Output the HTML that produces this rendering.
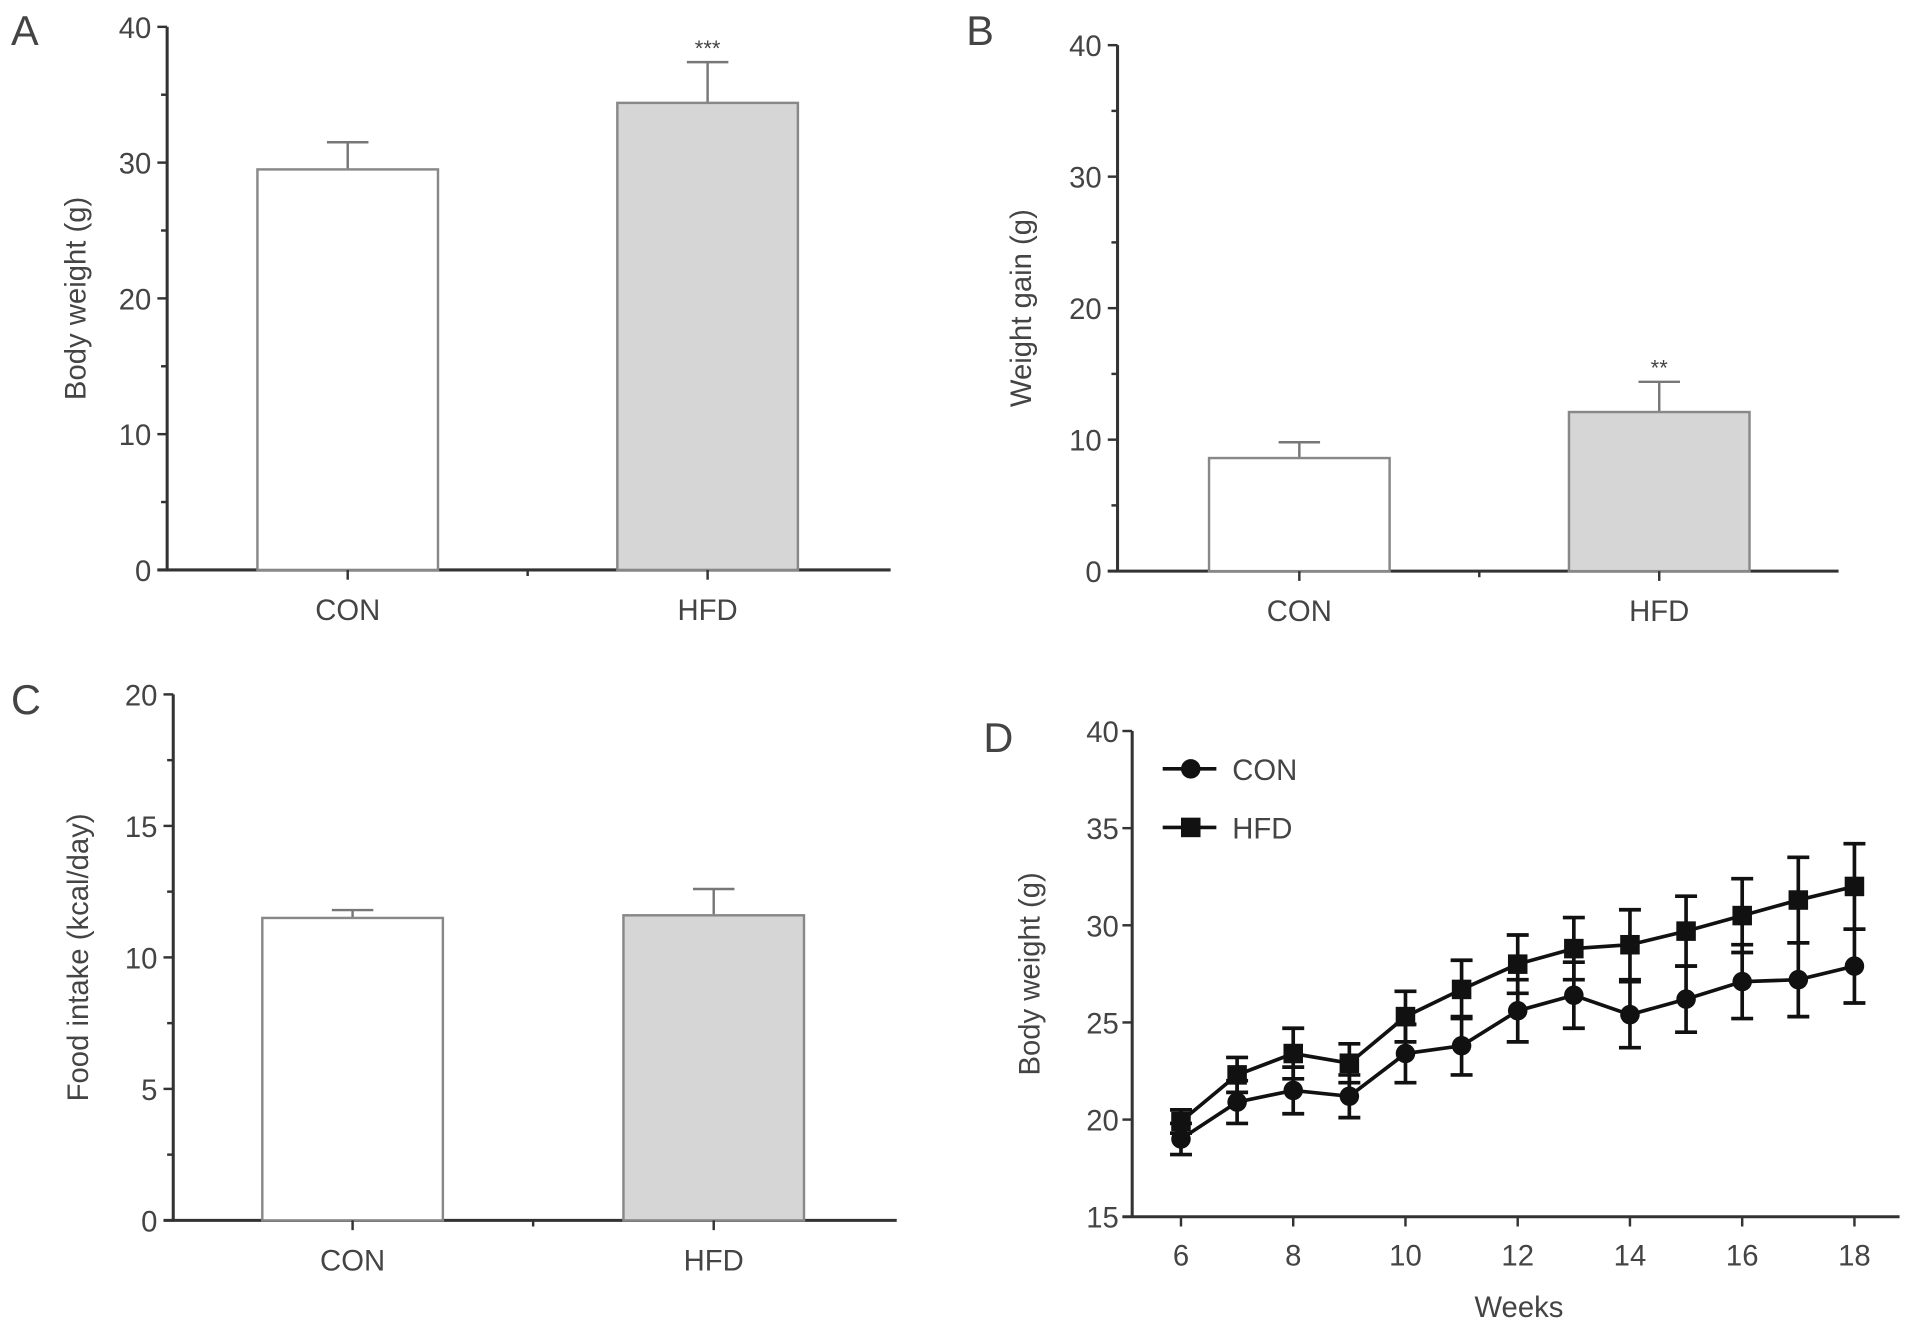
<!DOCTYPE html>
<html><head><meta charset="utf-8"><style>
html,body{margin:0;padding:0;background:#fff;}
svg{display:block;}
text{font-family:"Liberation Sans",sans-serif;fill:#444;}
</style></head><body>
<svg id="fig" width="1913" height="1329" viewBox="0 0 1568 1089" preserveAspectRatio="none" xmlns="http://www.w3.org/2000/svg"></svg>
<script>
// Panel A
const aCats = ["CON", "HFD"];
const aVals = [29.5, 34.4];
const aErrs = [2.0, 3.0];
const aTicks = [0, 10, 20, 30, 40];
// Panel B
const bCats = ["CON", "HFD"];
const bVals = [8.6, 12.1];
const bErrs = [1.2, 2.3];
const bTicks = [0, 10, 20, 30, 40];
// Panel C
const cCats = ["CON", "HFD"];
const cVals = [11.5, 11.6];
const cErrs = [0.3, 1.0];
const cTicks = [0, 5, 10, 15, 20];
// Panel D
const dWeeks = [6,7,8,9,10,11,12,13,14,15,16,17,18];
const dCon = [19.0,20.9,21.5,21.2,23.4,23.8,25.6,26.4,25.4,26.2,27.1,27.2,27.9];
const dConErr = [0.8,1.1,1.2,1.1,1.5,1.5,1.6,1.7,1.7,1.7,1.9,1.9,1.9];
const dHfd = [19.9,22.3,23.4,22.9,25.3,26.7,28.0,28.8,29.0,29.7,30.5,31.3,32.0];
const dHfdErr = [0.6,0.9,1.3,1.0,1.3,1.5,1.5,1.6,1.8,1.8,1.9,2.2,2.2];
const dYTicks = [15,20,25,30,35,40];
const dXTicks = [6,8,10,12,14,16,18];

const svg = document.getElementById('fig');
const NS = 'http://www.w3.org/2000/svg';
function mk(tag, attrs, parent){
  const e = document.createElementNS(NS, tag);
  for (const k in attrs) e.setAttribute(k, attrs[k]);
  (parent||svg).appendChild(e);
  return e;
}
function txt(s, x, y, size, anchor, parent){
  const t = mk('text', {x:x, y:y, 'font-size':size, 'text-anchor':anchor||'middle'}, parent);
  t.textContent = s;
  return t;
}

function barPanel(p){
  const g = mk('g', {});
  
  
  const ys = v => p.y0 + (p.yTop - p.y0) * (v - p.min) / (p.max - p.min);
  const lt = txt(p.letter, p.letterX, p.letterY, 34, 'start', g);
  
  
  const ya = mk('line', {x1:p.x0, y1:ys(p.max), x2:p.x0, y2:p.y0+1, stroke:'#333', 'stroke-width':2.5}, g);
  
  
  const xa = mk('line', {x1:p.x0-8, y1:p.y0, x2:p.xEnd, y2:p.y0, stroke:'#333', 'stroke-width':2.5}, g);
  
  
  const step = p.ticks[1]-p.ticks[0];
  p.ticks.forEach((t,i) => {
    mk('line', {x1:p.x0-8, y1:ys(t), x2:p.x0, y2:ys(t), stroke:'#333', 'stroke-width':2}, g);
    if (i < p.ticks.length-1) mk('line', {x1:p.x0-5, y1:ys(t+step/2), x2:p.x0, y2:ys(t+step/2), stroke:'#333', 'stroke-width':2}, g);
    const tl = txt(String(t), p.x0-13, ys(t)+9, 24, 'end', g);
    
    
  });
  const yt = txt(p.yTitle, 0, 0, 24, 'middle', g);
  yt.setAttribute('transform', `translate(${p.titleX},${(ys(p.max)+p.y0)/2}) rotate(-90)`);
  
  
  p.cats.forEach((c,i) => {
    const cx = p.centers[i];
    const top = ys(p.vals[i]);
    const eTop = ys(p.vals[i] + p.errs[i]);
    mk('line', {x1:cx, y1:top, x2:cx, y2:eTop, stroke:'#777', 'stroke-width':2}, g);
    mk('line', {x1:cx-17, y1:eTop, x2:cx+17, y2:eTop, stroke:'#777', 'stroke-width':2}, g);
    const r = mk('rect', {x:cx-p.bw/2, y:top, width:p.bw, height:p.y0-top, fill:i===0?'#fff':'#d6d6d6', stroke:'#888', 'stroke-width':2}, g);
    
    
    mk('line', {x1:cx, y1:p.y0, x2:cx, y2:p.y0+8, stroke:'#333', 'stroke-width':2}, g);
    const cl = txt(c, cx, p.y0+41, 24, 'middle', g);
    
    
    if (p.stars[i]) {
      const st = txt(p.stars[i], cx, eTop-5, 18, 'middle', g);
      
      
    }
  });
  mk('line', {x1:(p.centers[0]+p.centers[1])/2, y1:p.y0, x2:(p.centers[0]+p.centers[1])/2, y2:p.y0+5, stroke:'#333', 'stroke-width':2}, g);
}

barPanel({name:'panel-a', letter:'A', letterX:9, letterY:37, x0:137, xEnd:730, y0:467, yTop:22, min:0, max:40,
  ticks:aTicks, cats:aCats, vals:aVals, errs:aErrs, centers:[285,580], bw:148, titleX:70, yTitle:'Body weight (g)', stars:['','***']});
barPanel({name:'panel-b', letter:'B', letterX:792, letterY:37, x0:916, xEnd:1507, y0:468, yTop:37, min:0, max:40,
  ticks:bTicks, cats:bCats, vals:bVals, errs:bErrs, centers:[1065,1360], bw:148, titleX:845, yTitle:'Weight gain (g)', stars:['','**']});
barPanel({name:'panel-c', letter:'C', letterX:9, letterY:585, x0:142, xEnd:735, y0:1000, yTop:569, min:0, max:20,
  ticks:cTicks, cats:cCats, vals:cVals, errs:cErrs, centers:[289,585], bw:148, titleX:72, yTitle:'Food intake (kcal/day)', stars:['','']});

(function(){
  const g = mk('g', {});
  
  
  const x0 = 928, y0 = 997, yTop = 599, xEnd = 1557;
  const xs = w => 968 + (w - 6) * 46;
  const ys = v => y0 + (yTop - y0) * (v - 15) / 25;
  const lt = txt('D', 806, 616, 34, 'start', g);
  
  
  const ya = mk('line', {x1:x0, y1:yTop, x2:x0, y2:y0+1, stroke:'#333', 'stroke-width':2.5}, g);
  
  
  const xa = mk('line', {x1:x0-8, y1:y0, x2:xEnd, y2:y0, stroke:'#333', 'stroke-width':2.5}, g);
  
  
  dYTicks.forEach(t => {
    mk('line', {x1:x0-8, y1:ys(t), x2:x0, y2:ys(t), stroke:'#333', 'stroke-width':2}, g);
    const tl = txt(String(t), x0-11, ys(t)+9, 24, 'end', g);
    
    
  });
  dXTicks.forEach(t => {
    mk('line', {x1:xs(t), y1:y0, x2:xs(t), y2:y0+8, stroke:'#333', 'stroke-width':2}, g);
    const tl = txt(String(t), xs(t), y0+40, 24, 'middle', g);
    
    
  });
  const xt = txt('Weeks', 1245, 1079, 24, 'middle', g);
  
  
  const yt = txt('Body weight (g)', 0, 0, 24, 'middle', g);
  yt.setAttribute('transform', `translate(852,${(yTop+y0)/2}) rotate(-90)`);
  
  

  function series(vals, errs, shape, name){
    const sg = mk('g', {}, g);
    
    
    const pts = dWeeks.map((w,i) => xs(w) + ',' + ys(vals[i])).join(' ');
    mk('polyline', {points:pts, fill:'none', stroke:'#111', 'stroke-width':3}, sg);
    dWeeks.forEach((w,i) => {
      const x = xs(w), hi = ys(vals[i]+errs[i]), lo = ys(vals[i]-errs[i]);
      mk('line', {x1:x, y1:hi, x2:x, y2:lo, stroke:'#111', 'stroke-width':3}, sg);
      mk('line', {x1:x-9, y1:hi, x2:x+9, y2:hi, stroke:'#111', 'stroke-width':3}, sg);
      mk('line', {x1:x-9, y1:lo, x2:x+9, y2:lo, stroke:'#111', 'stroke-width':3}, sg);
      let m;
      if (shape === 'circle') m = mk('circle', {cx:x, cy:ys(vals[i]), r:8, fill:'#111'}, sg);
      else m = mk('rect', {x:x-8, y:ys(vals[i])-8, width:16, height:16, fill:'#111'}, sg);
      
      
    });
  }
  series(dCon, dConErr, 'circle', 'con');
  series(dHfd, dHfdErr, 'square', 'hfd');

  const lg1 = mk('g', {}, g);
  
  
  mk('line', {x1:953, y1:630, x2:997, y2:630, stroke:'#111', 'stroke-width':3}, lg1);
  mk('circle', {cx:976, cy:630, r:8, fill:'#111'}, lg1);
  txt('CON', 1010, 639, 24, 'start', lg1);
  const lg2 = mk('g', {}, g);
  
  
  mk('line', {x1:953, y1:678, x2:997, y2:678, stroke:'#111', 'stroke-width':3}, lg2);
  mk('rect', {x:968, y:670, width:16, height:16, fill:'#111'}, lg2);
  txt('HFD', 1010, 687, 24, 'start', lg2);
})();
</script>
</body></html>
